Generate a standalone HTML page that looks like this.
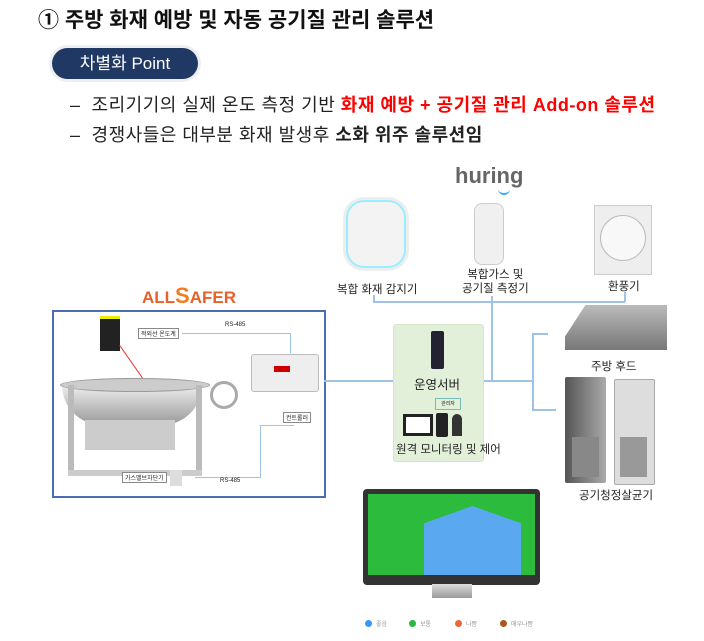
<!DOCTYPE html>
<html><head><meta charset="utf-8"><style>
body{margin:0;width:704px;height:641px;background:#fff;position:relative;overflow:hidden;font-family:"Liberation Sans","Noto Sans CJK KR",sans-serif;color:#222}
.a{position:absolute}
.t{white-space:nowrap}
.ln{position:absolute;background:#9dc3e6}
.lbl{position:absolute;font-size:6px;border:1px solid #888;background:#fff;padding:0 2px;white-space:nowrap}
</style></head><body>
<div class="a t" style="left:38px;top:4px;font-size:21px;font-weight:bold;color:#111">① 주방 화재 예방 및 자동 공기질 관리 솔루션</div>
<div class="a t" style="left:52px;top:48px;width:146px;height:31px;border-radius:16px;background:#1f3864;color:#fff;font-size:17px;line-height:31px;text-align:center;box-shadow:0 0 0 3px #eee">차별화 Point</div>
<div class="a t" style="left:70px;top:91px;font-size:18px;letter-spacing:0.5px">–&nbsp; 조리기기의 실제 온도 측정 기반 <b style="color:#f00">화재 예방 + 공기질 관리 Add-on 솔루션</b></div>
<div class="a t" style="left:70px;top:121px;font-size:18px;letter-spacing:0.5px">–&nbsp; 경쟁사들은 대부분 화재 발생후 <b>소화 위주 솔루션임</b></div>

<!-- ALLSAFER -->
<div class="a t" style="left:142px;top:283px;font-size:17px;font-weight:bold;color:#e8602a;letter-spacing:0px">ALL<span style="font-size:22px;color:#f07d20">S</span>AFER</div>
<div class="a" style="left:52px;top:310px;width:270px;height:184px;border:2px solid #4a6fb0"></div>
<!-- kettle -->
<div class="a" style="left:62px;top:385px;width:140px;height:40px;border-radius:0 0 70px 70px;background:linear-gradient(#eee,#999)"></div>
<div class="a" style="left:60px;top:378px;width:148px;height:12px;border-radius:50%;background:#ccc;border:1px solid #999"></div>
<div class="a" style="left:68px;top:385px;width:6px;height:90px;background:#bbb"></div>
<div class="a" style="left:196px;top:385px;width:6px;height:90px;background:#bbb"></div>
<div class="a" style="left:68px;top:470px;width:134px;height:6px;background:#ccc"></div>
<div class="a" style="left:85px;top:420px;width:90px;height:30px;background:#ccc"></div>
<div class="a" style="left:210px;top:381px;width:22px;height:22px;border-radius:50%;border:3px solid #aaa"></div>
<div class="a" style="left:100px;top:316px;width:20px;height:32px;background:#222;border-top:3px solid #ee0"></div>
<div class="a" style="left:120px;top:345px;width:40px;height:1px;background:#e33;transform:rotate(55deg);transform-origin:0 0"></div>
<div class="lbl" style="left:138px;top:328px">적외선 온도계</div>
<div class="a t" style="left:225px;top:322px;font-size:6px">RS-485</div>
<div class="ln" style="left:182px;top:333px;width:108px;height:1px"></div>
<div class="ln" style="left:290px;top:333px;width:1px;height:20px"></div>
<div class="a" style="left:251px;top:354px;width:66px;height:36px;background:#eee;border:1px solid #bbb;border-radius:3px"></div>
<div class="a" style="left:274px;top:366px;width:16px;height:6px;background:#c00"></div>
<div class="lbl" style="left:283px;top:412px">컨트롤러</div>
<div class="ln" style="left:260px;top:425px;width:34px;height:1px"></div>
<div class="ln" style="left:260px;top:425px;width:1px;height:52px"></div>
<div class="ln" style="left:195px;top:477px;width:66px;height:1px"></div>
<div class="lbl" style="left:122px;top:472px">가스밸브차단기</div>
<div class="a" style="left:170px;top:470px;width:12px;height:16px;background:#ddd"></div>
<div class="a t" style="left:220px;top:478px;font-size:6px">RS-485</div>

<!-- huring -->
<div class="a t" style="left:455px;top:163px;font-size:22px;font-weight:bold;color:#666">huring</div>
<div class="a" style="left:498px;top:188px;width:12px;height:5px;border-bottom:2px solid #3af;border-radius:0 0 8px 8px"></div>
<div class="a" style="left:346px;top:200px;width:56px;height:64px;border-radius:18px;background:#f3f3f3;border:2px solid #9ef;box-shadow:0 0 0 3px #eee"></div>
<div class="a t" style="left:337px;top:281px;font-size:11.5px">복합 화재 감지기</div>
<div class="a" style="left:474px;top:203px;width:28px;height:60px;border-radius:8px;background:#f0f0f0;border:1px solid #ccc"></div>
<div class="a t" style="left:462px;top:268px;font-size:11.5px;text-align:center;line-height:14px">복합가스 및<br>공기질 측정기</div>
<div class="a" style="left:594px;top:205px;width:56px;height:68px;background:#eee;border:1px solid #ccc"></div>
<div class="a" style="left:600px;top:215px;width:44px;height:44px;border-radius:50%;border:1px solid #bbb;background:#f8f8f8"></div>
<div class="a t" style="left:608px;top:278px;font-size:11.5px">환풍기</div>

<!-- connectors -->
<div class="ln" style="left:373px;top:301px;width:252px;height:2px"></div>
<div class="ln" style="left:373px;top:295px;width:2px;height:7px"></div>
<div class="ln" style="left:624px;top:292px;width:2px;height:10px"></div>
<div class="ln" style="left:491px;top:296px;width:2px;height:86px"></div>
<div class="ln" style="left:324px;top:380px;width:70px;height:2px"></div>
<div class="ln" style="left:481px;top:380px;width:52px;height:2px"></div>
<div class="ln" style="left:532px;top:333px;width:2px;height:78px"></div>
<div class="ln" style="left:532px;top:333px;width:16px;height:2px"></div>
<div class="ln" style="left:532px;top:409px;width:24px;height:2px"></div>

<!-- green box -->
<div class="a" style="left:393px;top:324px;width:89px;height:136px;background:#e2f0d9;border:1px solid #d5e5cc;border-radius:3px"></div>
<div class="a" style="left:431px;top:331px;width:13px;height:38px;background:#223;border-radius:2px"></div>
<div class="a t" style="left:414px;top:374px;font-size:12.5px">운영서버</div>
<div class="a" style="left:435px;top:398px;width:24px;height:10px;border:1px solid #7bb;font-size:5px;text-align:center;line-height:10px">관리자</div>
<div class="a" style="left:403px;top:414px;width:30px;height:22px;background:#222"></div>
<div class="a" style="left:406px;top:417px;width:24px;height:16px;background:#fff"></div>
<div class="a" style="left:436px;top:413px;width:12px;height:24px;background:#222;border-radius:2px"></div>
<div class="a" style="left:452px;top:414px;width:10px;height:22px;background:#333;border-radius:5px 5px 0 0"></div>
<div class="a t" style="left:396px;top:441px;font-size:11.5px">원격 모니터링 및 제어</div>

<!-- hood -->
<div class="a" style="left:565px;top:305px;width:102px;height:45px;background:linear-gradient(#bbb,#777);clip-path:polygon(20% 0,100% 0,100% 100%,0 100%,0 70%)"></div>
<div class="a t" style="left:591px;top:358px;font-size:11.5px">주방 후드</div>
<!-- purifiers -->
<div class="a" style="left:565px;top:377px;width:41px;height:106px;background:linear-gradient(90deg,#555,#aaa);border-radius:2px"></div>
<div class="a" style="left:614px;top:379px;width:39px;height:104px;background:#ddd;border:1px solid #aaa;border-radius:2px"></div>
<div class="a" style="left:620px;top:437px;width:27px;height:40px;background:#999"></div>
<div class="a" style="left:572px;top:437px;width:27px;height:40px;background:#888"></div>
<div class="a t" style="left:579px;top:487px;font-size:11.5px">공기청정살균기</div>

<!-- monitor -->
<div class="a" style="left:363px;top:489px;width:177px;height:96px;background:#333;border-radius:4px"></div>
<div class="a" style="left:368px;top:494px;width:167px;height:81px;background:#2cbb3c"></div>
<div class="a" style="left:424px;top:506px;width:97px;height:69px;background:#5aa9f0;clip-path:polygon(0 25%,50% 0,100% 25%,100% 100%,0 100%)"></div>
<div class="a" style="left:432px;top:584px;width:40px;height:14px;background:linear-gradient(#ddd,#999)"></div>
<div class="a" style="left:365px;top:620px;width:7px;height:7px;border-radius:50%;background:#39f"></div>
<div class="a t" style="left:376px;top:619px;font-size:6px;color:#999">좋음</div>
<div class="a" style="left:409px;top:620px;width:7px;height:7px;border-radius:50%;background:#2b4"></div>
<div class="a t" style="left:420px;top:619px;font-size:6px;color:#999">보통</div>
<div class="a" style="left:455px;top:620px;width:7px;height:7px;border-radius:50%;background:#e63"></div>
<div class="a t" style="left:466px;top:619px;font-size:6px;color:#999">나쁨</div>
<div class="a" style="left:500px;top:620px;width:7px;height:7px;border-radius:50%;background:#a52"></div>
<div class="a t" style="left:511px;top:619px;font-size:6px;color:#999">매우나쁨</div>
</body></html>
